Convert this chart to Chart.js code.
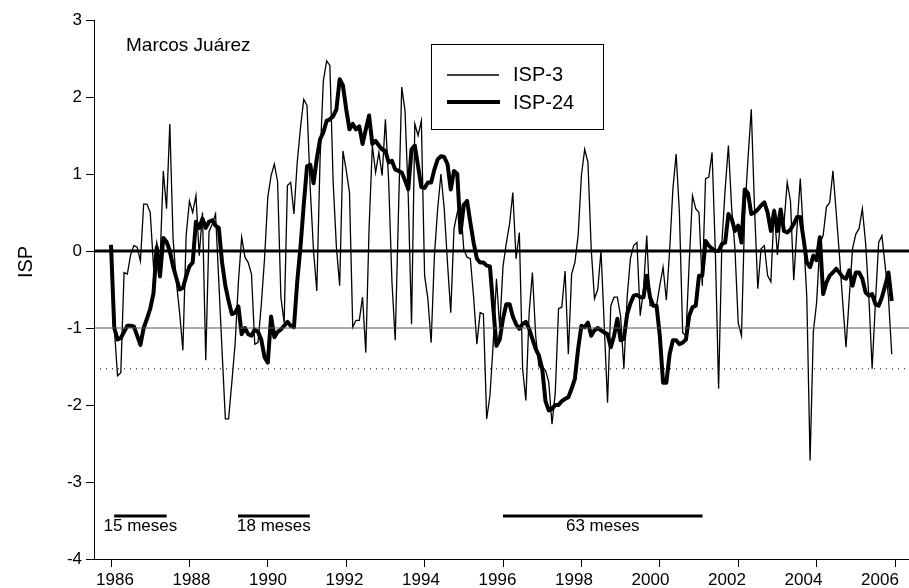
<!DOCTYPE html>
<html>
<head>
<meta charset="utf-8">
<script src="https://cdn.jsdelivr.net/npm/chart.js@4.4.1/dist/chart.umd.min.js"></script>
<style>
  html, body { margin: 0; padding: 0; background: #fff; }
</style>
</head>
<body>
<canvas id="chart" width="909" height="588"></canvas>
<script>
// monthly values, Jan 1986 .. Dec 2005 (one row per year)
const startYear = 1986;
const isp3 = [
  0.08, -1.0, -1.62, -1.58, -0.28, -0.3, -0.05, 0.07, 0.05, -0.13, 0.61, 0.61,
  0.5, -0.19, 0.11, -0.15, 1.04, 0.55, 1.65, 0.16, -0.4, -0.8, -1.29, 0.2,
  0.65, 0.5, 0.72, -0.06, 0.5, -1.42, 0.25, 0.35, 0.48, -0.4, -1.3, -2.18,
  -2.18, -1.7, -1.2, -0.4, 0.18, -0.08, -0.15, -0.3, -1.21, -1.19, -0.7, -0.1,
  0.7, 0.98, 1.13, 0.9, -0.6, -0.93, 0.85, 0.89, 0.48, 1.15, 1.6, 1.97,
  1.89, 0.8, 0.0, -0.52, 1.2, 2.21, 2.47, 2.41, 0.9, 0.05, -0.45, 1.3,
  1.05, 0.76, -0.99, -0.9, -0.9, -0.6, -1.32, 0.3, 1.37, 1.02, 1.28, 0.98,
  1.71, 0.9, -0.4, -1.16, 0.5, 2.13, 1.82, 0.7, -0.95, 1.65, 1.5, 1.69,
  -0.32, -0.62, -1.19, -0.06, 0.55, 1.0, 0.55, -0.15, -0.8, 0.29, 0.5, 0.6,
  0.02, -0.08, -0.1, -0.6, -1.21, -0.8, -0.82, -2.18, -1.88, -1.2, -0.36, -1.0,
  -0.2, 0.1, 0.35, 0.76, -0.1, 0.24, -1.53, -1.94, -0.8, -0.28, -1.1, -1.5,
  -1.53, -1.55, -1.7, -2.25, -1.84, -0.75, -0.73, -0.26, -1.34, -0.3, -0.15, 0.2,
  0.98, 1.32, 1.15, 0.03, -0.62, -0.5, 0.0, -0.97, -1.97, -0.71, -0.6, -0.6,
  -0.85, -1.53, -0.6, -0.1, 0.07, 0.11, -0.84, -0.5, 0.2, -0.71, -0.71, -0.71,
  -0.45, -0.21, -0.64, 0.0, 0.8, 1.26, 0.5, -1.06, -1.1, -0.15, 0.72, 0.55,
  0.5, -0.45, 0.94, 0.96, 1.28, 0.0, -1.79, 0.1, 0.8, 1.37, 0.55, 0.03,
  -0.93, -1.1, 0.5, 1.2, 1.84, 0.55, -0.49, 0.03, 0.07, -0.32, -0.4, 0.55,
  -0.05, 0.4, 0.35, 0.89, 0.65, -0.38, 0.3, 0.94, 0.2, -0.6, -2.72, -1.05,
  -0.67, 0.1, 0.2, 0.57, 0.63, 1.04, 0.5, -0.06, -0.67, -1.25, -0.6, 0.03,
  0.22, 0.29, 0.55, 0.1, -0.6, -1.53, -0.67, 0.11, 0.2, -0.2, -0.6, -1.34
];
const isp24 = [
  0.08, -1.0, -1.15, -1.13, -1.05, -0.97, -0.97, -0.98, -1.1, -1.22, -1.0, -0.88,
  -0.75, -0.55, 0.05, -0.33, 0.17, 0.12, 0.0, -0.2, -0.35, -0.5, -0.48, -0.33,
  -0.2, -0.15, 0.38, 0.3, 0.42, 0.3, 0.38, 0.4, 0.33, 0.3, -0.15, -0.45,
  -0.65, -0.82, -0.8, -0.72, -1.08, -1.0, -1.08, -1.1, -1.02, -1.05, -1.15, -1.38,
  -1.45, -0.85, -1.12, -1.05, -1.02, -0.97, -0.92, -0.97, -0.99, -0.4, 0.05, 0.6,
  1.1, 1.12, 0.88, 1.2, 1.45, 1.54, 1.69, 1.71, 1.75, 1.84, 2.23, 2.15,
  1.84, 1.58, 1.65, 1.58, 1.62, 1.39, 1.58, 1.76, 1.39, 1.43, 1.37, 1.32,
  1.3, 1.15, 1.17, 1.06, 1.04, 1.02, 0.92, 0.8, 1.32, 1.37, 1.1, 0.83,
  0.82, 0.89, 0.89, 1.06, 1.19, 1.23, 1.22, 1.13, 0.8, 1.04, 1.0, 0.24,
  0.6, 0.65, 0.37, 0.11, -0.1, -0.15, -0.15, -0.19, -0.2, -0.73, -1.23, -1.15,
  -0.88, -0.69, -0.69, -0.85, -0.95, -1.01, -0.95, -0.92, -1.01, -1.14, -1.27, -1.36,
  -1.53, -1.95, -2.07, -2.05, -2.0, -2.0, -1.95, -1.92, -1.9, -1.79, -1.66, -1.27,
  -0.97, -0.99, -0.93, -1.1, -1.03, -1.0, -1.03, -1.06, -1.08, -1.25, -1.1, -0.88,
  -1.16, -1.14, -0.82, -0.68, -0.58, -0.57, -0.6, -0.6, -0.32, -0.6, -0.71, -0.71,
  -1.1, -1.71, -1.71, -1.34, -1.16, -1.16, -1.21, -1.19, -1.15, -0.84, -0.73, -0.71,
  -0.32, -0.32, 0.13, 0.07, 0.03, 0.0, 0.0, 0.09, 0.11, 0.48, 0.42, 0.26,
  0.33, 0.11, 0.8, 0.75, 0.48, 0.5, 0.54, 0.59, 0.63, 0.5, 0.26, 0.52,
  0.26, 0.54, 0.26, 0.24, 0.28, 0.35, 0.44, 0.44, 0.16, -0.15, -0.21, -0.06,
  -0.12, 0.18, -0.56, -0.41, -0.32, -0.28, -0.23, -0.28, -0.34, -0.36, -0.25, -0.45,
  -0.28, -0.28, -0.36, -0.54, -0.58, -0.56, -0.69, -0.71, -0.6, -0.45, -0.28, -0.65
];
const xTicks = [1986, 1988, 1990, 1992, 1994, 1996, 1998, 2000, 2002, 2004, 2006];
const yTicks = [-4, -3, -2, -1, 0, 1, 2, 3];
const xMin = 1985.566, xMax = 2006.357;

// drought periods marked at the bottom
const periodStart = [1986.08, 1989.24, 1996.0];
const periodEnd = [1987.42, 1991.07, 2001.09];
const periodLabels = ['15 meses', '18 meses', '63 meses'];
const periodLevel = -3.44;
const periodTextLevel = -3.58;

const FONT = '"Liberation Sans", Arial, sans-serif';

function toPoints(values) {
  return values.map((v, i) => ({ x: startYear + i / 12, y: v }));
}
function hline(y) {
  return [{ x: xMin, y: y }, { x: xMax, y: y }];
}

const datasets = [
  { label: 'zero', data: hline(0), borderColor: '#000', borderWidth: 3 },
  { label: 'moderado', data: hline(-1), borderColor: '#555', borderWidth: 1 },
  { label: 'severo', data: hline(-1.53), borderColor: '#000', borderWidth: 1, borderDash: [1, 5] },
  { label: 'ISP-3', data: toPoints(isp3), borderColor: '#000', borderWidth: 1.3 },
  { label: 'ISP-24', data: toPoints(isp24), borderColor: '#000', borderWidth: 4, borderJoinStyle: 'round' }
];
periodStart.forEach((s, i) => {
  datasets.push({
    label: periodLabels[i],
    data: [{ x: s, y: periodLevel }, { x: periodEnd[i], y: periodLevel }],
    borderColor: '#000', borderWidth: 3
  });
});

const overlay = {
  id: 'overlay',
  afterDatasetsDraw(chart) {
    const ctx = chart.ctx;
    const xs = chart.scales.x, ys = chart.scales.y;
    ctx.save();
    ctx.fillStyle = '#000';
    ctx.strokeStyle = '#000';

    // station name
    ctx.font = '19px ' + FONT;
    ctx.textAlign = 'left';
    ctx.textBaseline = 'middle';
    ctx.fillText('Marcos Juárez', 126, 46);

    // legend box
    ctx.lineWidth = 1;
    ctx.strokeRect(431.5, 44.5, 172, 85);
    ctx.beginPath();
    ctx.lineWidth = 1.3;
    ctx.moveTo(447, 75); ctx.lineTo(499, 75);
    ctx.stroke();
    ctx.beginPath();
    ctx.lineWidth = 4;
    ctx.moveTo(447, 102); ctx.lineTo(500, 102);
    ctx.stroke();
    ctx.font = '20px ' + FONT;
    ctx.fillText('ISP-3', 513, 75);
    ctx.fillText('ISP-24', 513, 103);

    // x tick labels: the original sets them slightly tighter than the ticks
    ctx.font = '17px ' + FONT;
    ctx.textAlign = 'center';
    xTicks.forEach(v => {
      const shift = 4 - 19 * (v - 1986) / 20;
      ctx.fillText(String(v), xs.getPixelForValue(v) + shift, 580);
    });

    // period labels
    periodLabels.forEach((t, i) => {
      const cx = xs.getPixelForValue((periodStart[i] + periodEnd[i]) / 2);
      ctx.fillText(t, cx, ys.getPixelForValue(periodTextLevel));
    });

    // y axis title
    ctx.translate(26, 262);
    ctx.rotate(-Math.PI / 2);
    ctx.font = '20px ' + FONT;
    ctx.fillText('ISP', 0, 0);
    ctx.restore();
  }
};

new Chart(document.getElementById('chart').getContext('2d'), {
  type: 'line',
  data: { datasets: datasets },
  options: {
    responsive: false,
    animation: false,
    devicePixelRatio: 1,
    layout: { padding: { top: 20, right: 0, bottom: 0, left: 0 } },
    elements: { point: { radius: 0 }, line: { tension: 0 } },
    plugins: { legend: { display: false }, tooltip: { enabled: false } },
    scales: {
      x: {
        type: 'linear',
        min: xMin,
        max: xMax,
        grid: { drawOnChartArea: false, tickLength: 8, color: '#000' },
        border: { display: true, color: '#000', width: 1 },
        ticks: { display: false },
        afterBuildTicks: s => { s.ticks = xTicks.map(v => ({ value: v })); },
        afterFit: s => { s.height = 29; s.paddingLeft = 0; s.paddingRight = 0; }
      },
      y: {
        min: -4,
        max: 3,
        grid: { drawOnChartArea: false, tickLength: 8, color: '#000' },
        border: { display: true, color: '#000', width: 1 },
        ticks: {
          color: '#000', font: { family: FONT, size: 17 }, padding: 4,
          callback: v => String(v)
        },
        afterBuildTicks: s => { s.ticks = yTicks.map(v => ({ value: v })); },
        afterFit: s => { s.width = 94; s.paddingTop = 0; s.paddingBottom = 0; }
      }
    }
  },
  plugins: [overlay]
});
</script>
</body>
</html>
